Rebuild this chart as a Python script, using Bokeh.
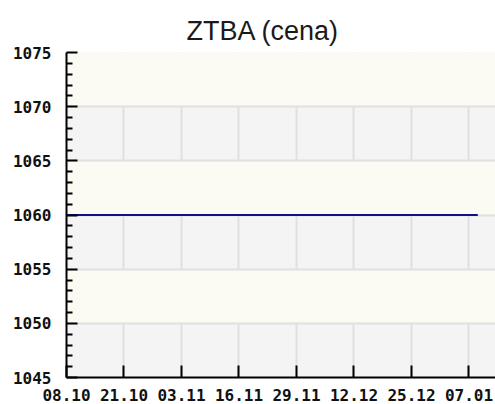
import pandas as pd
from bokeh.plotting import figure
from bokeh.models import FixedTicker, Range1d, DatetimeTickFormatter
from bokeh.embed import file_html
from bokeh.resources import INLINE

title_text = "ZTBA (cena)"
dates = ["2008-10-08", "2008-10-22", "2008-11-05", "2008-11-19", "2008-12-03",
         "2008-12-17", "2008-12-31", "2009-01-09"]
prices = [1060, 1060, 1060, 1060, 1060, 1060, 1060, 1060]
tick_dates = ["2008-10-08", "2008-10-21", "2008-11-03", "2008-11-16", "2008-11-29",
              "2008-12-12", "2008-12-25", "2009-01-07"]
y_ticks = [1045, 1050, 1055, 1060, 1065, 1070, 1075]
y_minor = [1046, 1047, 1048, 1049, 1051, 1052, 1053, 1054, 1056, 1057, 1058, 1059,
           1061, 1062, 1063, 1064, 1066, 1067, 1068, 1069, 1071, 1072, 1073, 1074]
x_start, x_end = "2008-10-08", "2009-01-13"

def ms(d):
    return pd.Timestamp(d).value / 1e6

xs = [pd.Timestamp(d) for d in dates]
tx = [ms(d) for d in tick_dates]

p = figure(width=495, height=404, output_backend="svg", toolbar_location=None,
           x_axis_type="datetime",
           x_range=Range1d(pd.Timestamp(x_start), pd.Timestamp(x_end)),
           y_range=Range1d(1045, 1075),
           min_border_left=66, min_border_right=0, min_border_top=52, min_border_bottom=27)

p.title.text = title_text
p.title.text_font = "Liberation Sans"
p.title.text_font_size = "27px"
p.title.text_font_style = "normal"
p.title.text_color = "#1a1a1a"
p.title.align = "left"
p.title.vertical_align = "top"
p.title.offset = 120
p.title.standoff = 10

p.background_fill_color = "#f4f4f4"
p.border_fill_color = "white"
p.outline_line_color = None

p.line(xs, prices, line_color="#10108a", line_width=2)

p.xaxis.ticker = FixedTicker(ticks=tx, minor_ticks=[])
p.xaxis.formatter = DatetimeTickFormatter(days="%d.%m", months="%d.%m", years="%d.%m")
p.yaxis.ticker = FixedTicker(ticks=y_ticks, minor_ticks=y_minor)

for ax in (p.xaxis[0], p.yaxis[0]):
    ax.axis_line_color = "black"
    ax.axis_line_width = 2
    ax.major_tick_line_color = "black"
    ax.major_tick_line_width = 2
    ax.minor_tick_line_color = "black"
    ax.minor_tick_line_width = 2
    ax.major_tick_out = 0
    ax.minor_tick_out = 0
    ax.major_label_text_font = "DejaVu Sans Mono"
    ax.major_label_text_font_style = "bold"
    ax.major_label_text_font_size = "16px"
    ax.major_label_text_color = "#111111"

p.xaxis.major_tick_in = 12
p.xaxis.minor_tick_in = 0
p.xaxis.major_label_standoff = 11
p.yaxis.major_tick_in = 11
p.yaxis.minor_tick_in = 6
p.yaxis.major_label_standoff = 15

p.xgrid.ticker = FixedTicker(ticks=tx)
p.ygrid.ticker = FixedTicker(ticks=y_ticks)
for g in (p.xgrid[0], p.ygrid[0]):
    g.grid_line_color = "#e0e0e0"
    g.grid_line_width = 2
p.ygrid.band_fill_color = "#fbfbf3"
p.ygrid.band_fill_alpha = 1.0

open("out.html", "w").write(file_html(p, INLINE))
